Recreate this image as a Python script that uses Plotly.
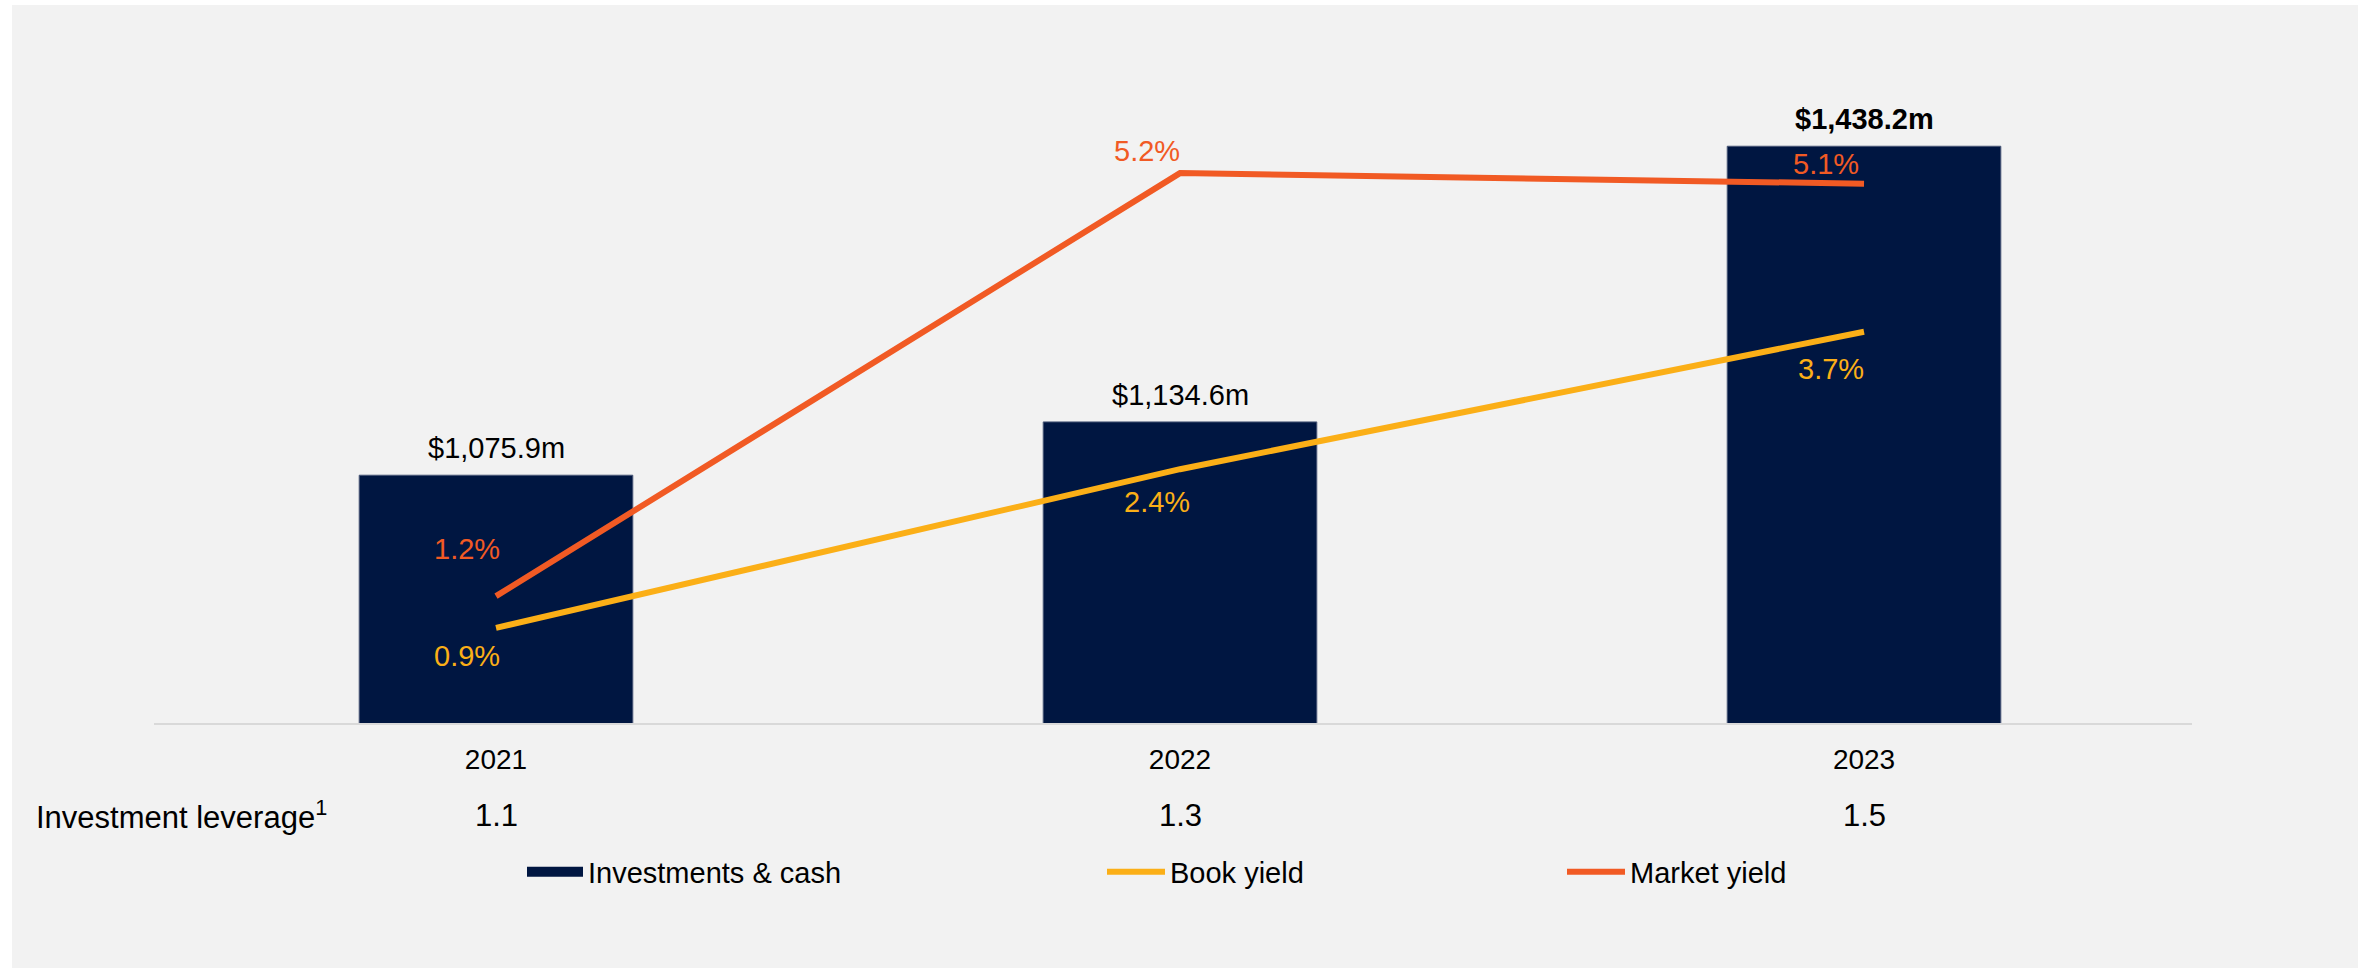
import plotly.graph_objects as go

# ---- data ----
years = ["2021", "2022", "2023"]
investments = [1075.9, 1134.6, 1438.2]      # $m
book_yield = [0.9, 2.4, 3.7]                # %
market_yield = [1.2, 5.2, 5.1]              # %
leverage = [1.1, 1.3, 1.5]
bold_year = "2023"

# ---- style ----
NAVY = "#001641"
YELLOW = "#FBAF17"
ORANGE = "#F15A24"
FONT = "Liberation Sans, Arial, sans-serif"
W, H = 2369, 968
ML, MR, MT, MB = 154, 177, 40, 245
PH = H - MT - MB

bar_text = [("<b>${:,.1f}m</b>" if y == bold_year else "${:,.1f}m").format(v)
            for y, v in zip(years, investments)]

fig = go.Figure()
fig.add_trace(go.Bar(
    x=years, y=investments, name="Investments & cash",
    marker=dict(color=NAVY, line=dict(color="#4a5878", width=1)),
    showlegend=False, legendgroup="inv",
))
# legend entry for the bars (drawn as a thick swatch)
fig.add_trace(go.Scatter(
    x=[None], y=[None], mode="lines", name="Investments & cash",
    line=dict(color=NAVY, width=15), legend="legend", legendgroup="inv",
))
fig.add_trace(go.Scatter(
    x=years, y=book_yield, name="Book yield", mode="lines", yaxis="y2",
    line=dict(color=YELLOW, width=6), legend="legend2",
))
fig.add_trace(go.Scatter(
    x=years, y=market_yield, name="Market yield", mode="lines", yaxis="y2",
    line=dict(color=ORANGE, width=6), legend="legend3",
))

annotations = []
# bar value labels
for i, (v, t) in enumerate(zip(investments, bar_text)):
    annotations.append(dict(x=i, y=v, xref="x", yref="y", text=t,
                            showarrow=False, yanchor="middle", yshift=27,
                            font=dict(size=29, color="#000000", family=FONT)))
# percentage labels (offsets in px from each point)
book_off = [(-29, -28), (-23, -33), (-33, -37)]
mkt_off = [(-29, 47), (-33, 22), (-38, 20)]
for i, (v, (dx, dy)) in enumerate(zip(book_yield, book_off)):
    annotations.append(dict(x=i, y=v, xref="x", yref="y2", text=f"{v:.1f}%",
                            showarrow=False, xshift=dx, yshift=dy,
                            yanchor="middle",
                            font=dict(size=29, color=YELLOW, family=FONT)))
for i, (v, (dx, dy)) in enumerate(zip(market_yield, mkt_off)):
    annotations.append(dict(x=i, y=v, xref="x", yref="y2", text=f"{v:.1f}%",
                            showarrow=False, xshift=dx, yshift=dy,
                            yanchor="middle",
                            font=dict(size=29, color=ORANGE, family=FONT)))
# investment leverage row
annotations.append(dict(x=0, y=0, xref="paper", yref="paper",
                        text="Investment leverage<sup>1</sup>", showarrow=False,
                        xanchor="left", yanchor="middle", xshift=-120, yshift=-92,
                        font=dict(size=31, color="#000000", family=FONT)))
for i, lv in enumerate(leverage):
    annotations.append(dict(x=i, y=0, xref="x", yref="paper", text=f"{lv:.1f}",
                            showarrow=False, yanchor="middle", yshift=-92,
                            font=dict(size=31, color="#000000", family=FONT)))

def px_to_paper_x(px):
    return (px - ML) / (W - ML - MR)

def px_to_paper_y(py):
    return (H - MB - py) / PH

legend_common = dict(orientation="h", xanchor="left", yanchor="middle",
                     bgcolor="rgba(0,0,0,0)",
                     font=dict(size=29, color="#000000", family=FONT),
                     itemclick=False, itemdoubleclick=False)

fig.update_layout(
    width=W, height=H,
    margin=dict(l=ML, r=MR, t=MT, b=MB),
    paper_bgcolor="#FFFFFF",
    plot_bgcolor="rgba(0,0,0,0)",
    font=dict(family=FONT, color="#000000"),
    bargap=0.6,
    xaxis=dict(type="category", range=[-0.5, 2.4795], showline=True,
               linecolor="#D9D9D9", linewidth=2, showgrid=False, ticks="",
               ticklabelstandoff=10,
               tickfont=dict(size=28, color="#000000", family=FONT)),
    yaxis=dict(range=[803, 803 + PH / 0.908], visible=False, showgrid=False),
    yaxis2=dict(range=[0, PH / 105.75], overlaying="y", visible=False,
                showgrid=False),
    legend=dict(x=px_to_paper_x(522), y=px_to_paper_y(872), itemwidth=56,
                **legend_common),
    legend2=dict(x=px_to_paper_x(1102), y=px_to_paper_y(872), itemwidth=58,
                 **legend_common),
    legend3=dict(x=px_to_paper_x(1562), y=px_to_paper_y(872), itemwidth=58,
                 **legend_common),
    annotations=annotations,
    shapes=[dict(type="rect", xref="paper", yref="paper", layer="below",
                 x0=px_to_paper_x(12), x1=px_to_paper_x(2358),
                 y0=px_to_paper_y(968), y1=px_to_paper_y(5),
                 fillcolor="#F2F2F2", line=dict(width=0))],
)

fig.write_html("out.html")
